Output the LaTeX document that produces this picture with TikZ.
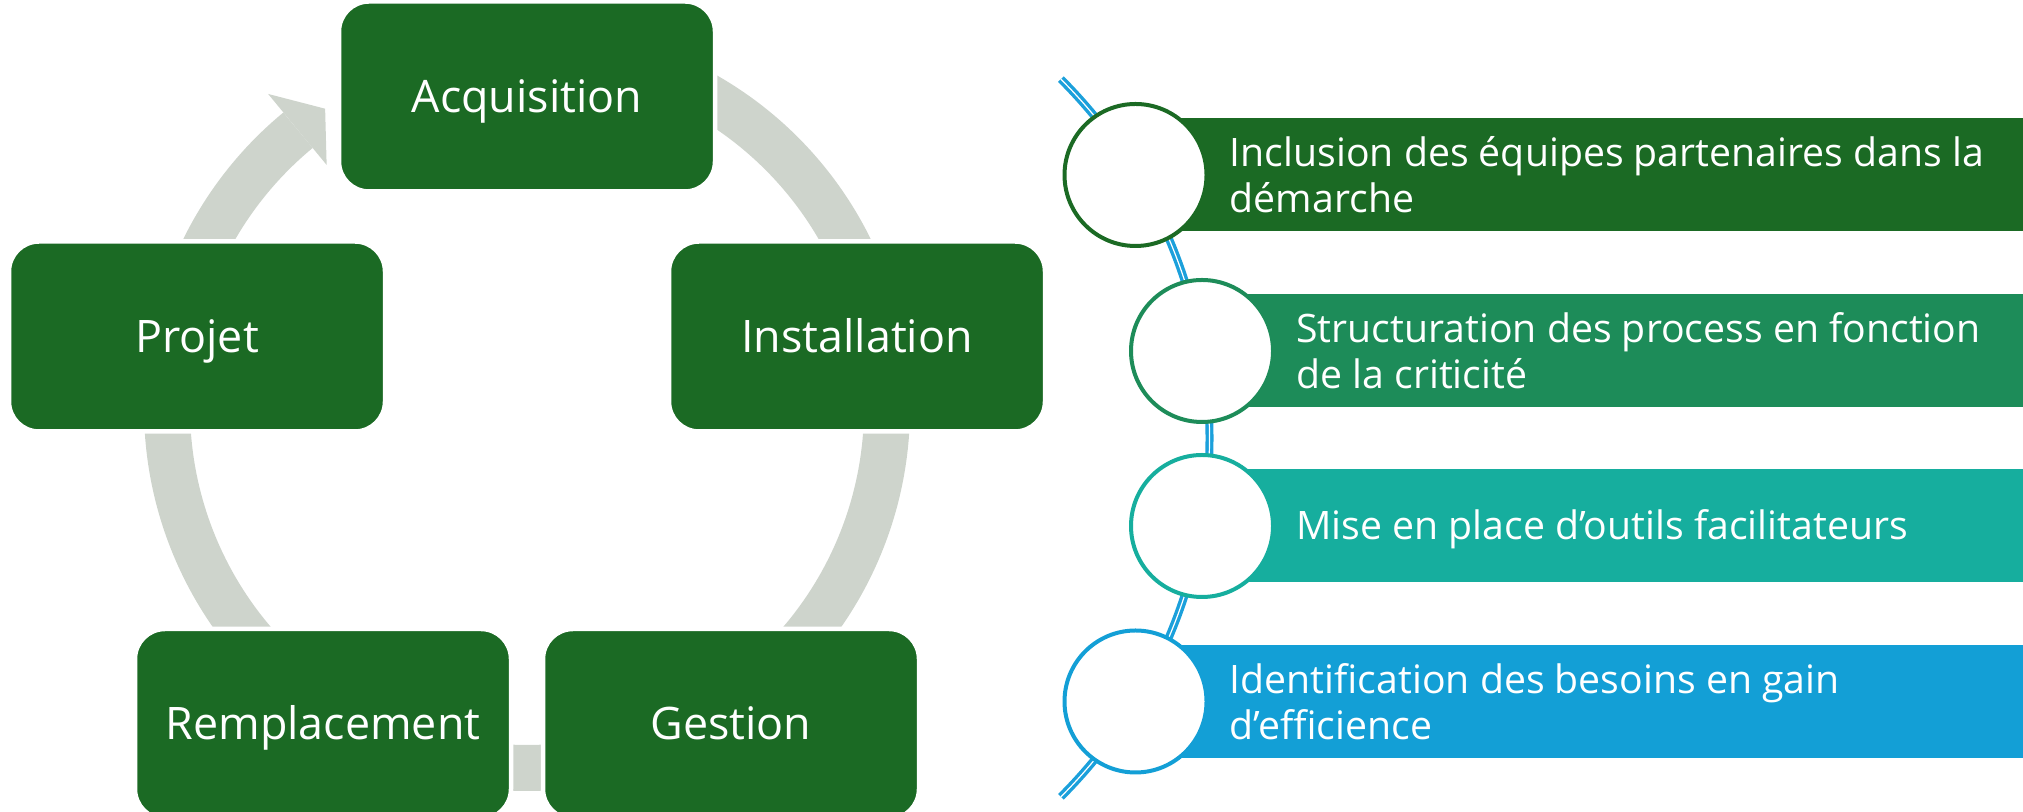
\documentclass[tikz,border=0pt]{standalone}
\usepackage{fontspec}
\setmainfont{Open Sans}
\definecolor{boxgreen}{RGB}{27,106,36}
\definecolor{ringgray}{RGB}{206,212,204}
\definecolor{barA}{RGB}{27,106,36}
\definecolor{barB}{RGB}{29,140,89}
\definecolor{barC}{RGB}{22,174,158}
\definecolor{barD}{RGB}{19,159,214}
\definecolor{spineblue}{RGB}{27,160,219}

\begin{document}
\begin{tikzpicture}[x=0.5pt, y=0.5pt,
	stage/.style = {rectangle, rounded corners=15pt, fill=boxgreen, draw=white, line width=2.25pt, minimum width=188pt, minimum height=95pt, inner sep=0pt, text=white, text height=16pt, text depth=0pt, font=\fontsize{22.4}{27}\selectfont},
	ring/.style = {draw=ringgray, line width=23pt},
	bar/.style = {rectangle, anchor=west, minimum width=450pt, minimum height=56.5pt, inner sep=0pt},
	dot/.style = {circle, fill=white, line width=2pt, minimum size=71pt, inner sep=0pt},
	itemtext/.style = {anchor=west, align=left, inner sep=0pt, text=white, font=\fontsize{19.6}{23}\selectfont},
	spine/.style = {draw=spineblue, line width=1.7pt, double=white, double distance=0.6pt}]
		\clip (0,0) rectangle (2023,812);
		\useasboundingbox (0,0) rectangle (2023,812);
		\begin{scope}[shift={(527,404)}]
			\draw[ring] (65:360) arc (65:20:360);
			\draw[ring] (5:360) arc (5:-50:360);
			\draw[ring] (-75:360) arc (-75:-105:360);
			\draw[ring] (230:360) arc (230:175:360);
			\draw[ring] (160:360) arc (160:129.5:360);
			\fill[ringgray] (129.5:407) -- (124:361) -- (129.5:315) -- cycle;
		\end{scope}
		\node[stage] (acq) at (527,715.5) {Acquisition};
		\node[stage] (inst) at (857,475.5) {Installation};
		\node[stage] (gest) at (731,88) {Gestion};
		\node[stage] (rempl) at (323,88) {Remplacement};
		\node[stage] (proj) at (197,475.5) {Projet};
		\coordinate (hub) at (702,374);
		\draw[spine] ([shift={(45:507.5)}]hub) arc (45:-45:507.5);
		\node[bar, fill=barA] (bar1) at (1135.5,637) {};
		\node[bar, fill=barB] (bar2) at (1202,461) {};
		\node[bar, fill=barC] (bar3) at (1202,286) {};
		\node[bar, fill=barD] (bar4) at (1135.5,110.5) {};
		\node[dot, draw=barA] (dot1) at (bar1.west) {};
		\node[dot, draw=barB] (dot2) at (bar2.west) {};
		\node[dot, draw=barC] (dot3) at (bar3.west) {};
		\node[dot, draw=barD] (dot4) at (bar4.west) {};
		\node[itemtext] (txt1) at ([xshift=47pt]dot1.center) {Inclusion des équipes partenaires dans la\\démarche};
		\node[itemtext] (txt2) at ([xshift=47pt]dot2.center) {Structuration des process en fonction\\de la criticité};
		\node[itemtext, text height=14pt, text depth=0pt] (txt3) at ([xshift=47pt]dot3.center) {Mise en place d’outils facilitateurs};
		\node[itemtext] (txt4) at ([xshift=47pt]dot4.center) {Identification des besoins en gain\\d’efficience};
		\end{tikzpicture}
\end{document}
